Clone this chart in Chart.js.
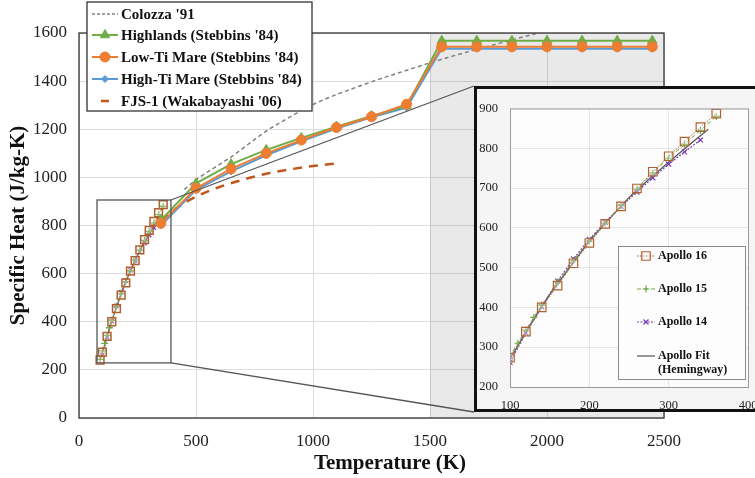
<!DOCTYPE html>
<html><head><meta charset="utf-8">
<script src="https://cdn.jsdelivr.net/npm/chart.js@4/dist/chart.umd.min.js"></script>
<style>
html,body{margin:0;padding:0;background:#fff;overflow:hidden;width:755px;height:478px;}
#main{position:absolute;left:0;top:0;}
#insetFrame{position:absolute;left:474px;top:86px;width:300px;height:320px;border:3px solid #111;background:#f5f5f5;}
#inset{position:absolute;left:0;top:0;}
</style></head>
<body>
<canvas id="main" width="755" height="478"></canvas>
<div id="insetFrame"><canvas id="inset" width="300" height="320"></canvas></div>
<script>
// ---------- data ----------
const stebT      = [350,500,650,800,950,1100,1250,1400,1550,1700,1850,2000,2150,2300,2450];
const highlandsCp= [822,975,1055,1114,1164,1211,1255,1297,1568,1568,1568,1568,1568,1568,1568];
const lowTiCp    = [809,955,1035,1100,1155,1207,1252,1304,1543,1543,1543,1543,1543,1543,1543];
const highTiCp   = [800,948,1025,1092,1150,1203,1250,1290,1535,1535,1535,1535,1535,1535,1535];
const colozzaT   = [450,500,650,800,900,1000,1200,1400,1600,1800,2000];
const colozzaCp  = [950,990,1085,1192,1250,1303,1380,1445,1505,1558,1610];
const fjsT       = [350,400,450,500,600,700,800,900,1000,1100];
const fjsCp      = [820,860,893,920,960,990,1015,1033,1047,1058];
const a16T  = [90,100,120,140,160,180,200,220,240,260,280,300,320,340,360];
const a16Cp = [241,274,339,400,455,511,562,610,654,699,741,780,817,853,887];
const a15T  = [90,100,110,120,130,140,160,180,200,220,240,260,280,300,320,340,360];
const a15Cp = [244,279,310,343,375,406,464,518,567,612,656,698,738,775,810,845,880];
const a14T  = [100,120,140,160,180,200,220,240,260,280,300,320,340];
const a14Cp = [262,336,402,466,522,571,614,654,690,726,760,791,821];
const fitT  = [90,100,125,150,175,200,225,250,275,300,325,350];
const fitCp = [240,270,355,432,500,567,622,676,722,765,807,848];
const mainLabels  = ["Colozza '91","Highlands (Stebbins '84)","Low-Ti Mare (Stebbins '84)","High-Ti Mare (Stebbins '84)","FJS-1 (Wakabayashi '06)"];
const insetLabels = [["Apollo 16"],["Apollo 15"],["Apollo 14"],["Apollo Fit","(Hemingway)"]];
const xTitle = "Temperature (K)";
const yTitle = "Specific Heat (J/kg-K)";
const zoomBox = {x0:77, x1:393, y0:229, y1:906};
const shade = {from:1500, to:2500};

const SERIF = "'Liberation Serif','Times New Roman',serif";
const pts = (xs, ys) => xs.map((v,i)=>({x:v,y:ys[i]}));
const plain = v => String(v);

const C = {green:'#70ad47', orange:'#ed7d31', blue:'#5b9bd5', gray:'#808080', fjs:'#c0561c',
           a16:'#b0602e', a15:'#6aab45', a14:'#7a3cb8', fit:'#555555'};

function drawMarker(ctx, style, r, x, y, stroke, fill, bw){
  ctx.save();
  ctx.strokeStyle = stroke; ctx.fillStyle = fill; ctx.lineWidth = bw;
  Chart.helpers.drawPoint(ctx, {pointStyle:style, radius:r, rotation:0, borderWidth:bw}, x, y);
  ctx.restore();
}

// ---------- main chart ----------
const mainDatasets = [
  {label:mainLabels[0], data:pts(colozzaT,colozzaCp), borderColor:C.gray, borderWidth:1.5, borderDash:[4,3], pointRadius:0, cubicInterpolationMode:'monotone', order:6, lg:{dash:[3,2], w:1.5}},
  {label:mainLabels[1], data:pts(stebT,highlandsCp), borderColor:C.green, backgroundColor:C.green, borderWidth:2, pointStyle:'triangle', pointRadius:5.5, pointBorderWidth:1, order:2, lg:{marker:'triangle', r:5.5, w:2}},
  {label:mainLabels[2], data:pts(stebT,lowTiCp), borderColor:C.orange, backgroundColor:C.orange, borderWidth:2, pointStyle:'circle', pointRadius:5, pointBorderWidth:1, order:1, lg:{marker:'circle', r:5, w:2}},
  {label:mainLabels[3], data:pts(stebT,highTiCp), borderColor:C.blue, backgroundColor:C.blue, borderWidth:2, pointStyle:'rectRot', pointRadius:3.5, pointBorderWidth:1, order:3, lg:{marker:'rectRot', r:3.5, w:2}},
  {label:mainLabels[4], data:pts(fjsT,fjsCp), borderColor:C.fjs, borderWidth:2.5, borderDash:[9,7], pointRadius:0, cubicInterpolationMode:'monotone', order:5, lg:{short:true, w:2.5}},
  {label:'Apollo Fit', data:pts(fitT,fitCp), borderColor:C.fit, borderWidth:1.2, pointRadius:0, order:10},
  {label:'Apollo 14', data:pts(a14T,a14Cp), borderColor:C.a14, borderWidth:1, borderDash:[2,2], pointStyle:'crossRot', pointRadius:3, pointBorderColor:C.a14, pointBorderWidth:1.2, order:9},
  {label:'Apollo 15', data:pts(a15T,a15Cp), borderColor:C.a15, borderWidth:1, borderDash:[3,2], pointStyle:'cross', pointRadius:3.5, pointBorderColor:C.a15, pointBorderWidth:1.3, order:8},
  {label:'Apollo 16', data:pts(a16T,a16Cp), borderColor:C.a16, borderWidth:1, borderDash:[1,2], pointStyle:'rect', pointRadius:5.5, pointBorderColor:C.a16, pointBackgroundColor:'rgba(255,255,255,0.25)', pointBorderWidth:1.5, order:7}
];

const mainDecor = {
  id:'mainDecor',
  beforeDatasetsDraw(chart){
    const {ctx, chartArea:a, scales:{x}} = chart;
    const x0 = x.getPixelForValue(shade.from), x1 = x.getPixelForValue(shade.to);
    ctx.save(); ctx.fillStyle = 'rgba(0,0,0,0.085)';
    ctx.fillRect(x0, a.top, x1-x0, a.bottom-a.top); ctx.restore();
  },
  afterDatasetsDraw(chart){
    const {ctx, chartArea:a, scales:{x,y}} = chart;
    ctx.save();
    const rx0=x.getPixelForValue(zoomBox.x0), rx1=x.getPixelForValue(zoomBox.x1);
    const ry0=y.getPixelForValue(zoomBox.y0), ry1=y.getPixelForValue(zoomBox.y1);
    ctx.strokeStyle='#555'; ctx.lineWidth=1.3;
    ctx.strokeRect(rx0, ry1, rx1-rx0, ry0-ry1);
    const f = document.getElementById('insetFrame');
    const fx = f.offsetLeft, fyTop = f.offsetTop, fyBot = f.offsetTop + f.offsetHeight;
    ctx.beginPath(); ctx.moveTo(rx1, ry1); ctx.lineTo(fx, fyTop);
    ctx.moveTo(rx1, ry0); ctx.lineTo(fx, fyBot); ctx.stroke();
    ctx.strokeStyle='#333'; ctx.lineWidth=1.3;
    ctx.strokeRect(a.left, a.top, a.right-a.left, a.bottom-a.top);
    ctx.restore();
  },
  afterDraw(chart){
    const ctx = chart.ctx;
    ctx.save();
    ctx.fillStyle='#111'; ctx.font = "bold 21px " + SERIF;
    ctx.textAlign='center'; ctx.textBaseline='middle';
    ctx.fillText(xTitle, 390, 464);
    ctx.fillStyle='#fff'; ctx.strokeStyle='#333'; ctx.lineWidth=1.3;
    ctx.fillRect(87,2,225,109); ctx.strokeRect(87,2,225,109);
    const ys = [14,35,57,79,101];
    const ds = chart.data.datasets.filter(d=>d.lg);
    ds.forEach((d,i)=>{
      const yy = ys[i];
      ctx.save();
      ctx.strokeStyle = d.borderColor; ctx.lineWidth = d.lg.w;
      ctx.setLineDash(d.lg.dash || []);
      ctx.beginPath();
      if (d.lg.short){ ctx.moveTo(101,yy); ctx.lineTo(109,yy); }
      else { ctx.moveTo(92,yy); ctx.lineTo(118,yy); }
      ctx.stroke(); ctx.restore();
      if (d.lg.marker) drawMarker(ctx, d.lg.marker, d.lg.r, 105, yy, d.borderColor, d.borderColor, 1);
      ctx.fillStyle='#111'; ctx.font = "bold 15px " + SERIF;
      ctx.textAlign='left'; ctx.textBaseline='middle';
      ctx.fillText(d.label, 121, yy+1);
    });
    ctx.restore();
  }
};

new Chart(document.getElementById('main'), {
  type:'line',
  data:{datasets:mainDatasets},
  options:{
    responsive:false, animation:false, devicePixelRatio:1,
    layout:{padding:{left:0, top:33, right:91, bottom:0}},
    plugins:{legend:{display:false}, tooltip:{enabled:false}},
    scales:{
      x:{type:'linear', min:0, max:2500,
         ticks:{stepSize:500, padding:13, color:'#222', font:{family:SERIF, size:17}, callback:plain},
         grid:{color:'#dcdcdc', drawTicks:false}, border:{display:false},
         afterFit(s){ s.height = 60; }},
      y:{type:'linear', min:0, max:1600,
         ticks:{stepSize:200, padding:12, color:'#222', font:{family:SERIF, size:17}, callback:plain},
         grid:{color:'#dcdcdc', drawTicks:false}, border:{display:false},
         title:{display:true, text:yTitle, color:'#111', font:{family:SERIF, size:21, weight:'bold'}, padding:{top:6, bottom:0}},
         afterFit(s){ s.width = 79; }}
    }
  },
  plugins:[mainDecor]
});

// ---------- inset chart ----------
const insetDatasets = [
  {label:'Apollo 16', data:pts(a16T,a16Cp), borderColor:C.a16, borderWidth:1, borderDash:[1.5,1.5], pointStyle:'rect', pointRadius:6, pointBorderColor:C.a16, pointBackgroundColor:'rgba(255,255,255,0.3)', pointBorderWidth:1.2, order:1, lg:{marker:'rect', r:6, dash:[1.5,1.5]}},
  {label:'Apollo 15', data:pts(a15T,a15Cp), borderColor:C.a15, borderWidth:1, borderDash:[4,3], pointStyle:'cross', pointRadius:3.5, pointBorderColor:C.a15, pointBorderWidth:1.2, order:2, lg:{marker:'cross', r:3.5, dash:[4,3]}},
  {label:'Apollo 14', data:pts(a14T,a14Cp), borderColor:C.a14, borderWidth:1.2, borderDash:[2,1.5], pointStyle:'crossRot', pointRadius:3.5, pointBorderColor:C.a14, pointBorderWidth:1.2, order:3, lg:{marker:'crossRot', r:3.5, dash:[2,1.5]}},
  {label:'Apollo Fit (Hemingway)', data:pts(fitT,fitCp), borderColor:C.fit, borderWidth:1.2, pointRadius:0, order:4, lg:{dash:[]}}
];

const insetDecor = {
  id:'insetDecor',
  beforeDraw(chart){
    const {ctx, chartArea:a} = chart;
    ctx.save(); ctx.fillStyle='#fcfcfc';
    ctx.fillRect(a.left, a.top, a.right-a.left, a.bottom-a.top); ctx.restore();
  },
  afterDatasetsDraw(chart){
    const {ctx, chartArea:a} = chart;
    ctx.save(); ctx.strokeStyle='#9a9a9a'; ctx.lineWidth=1;
    ctx.strokeRect(a.left+0.5, a.top+0.5, a.right-a.left, a.bottom-a.top);
    ctx.fillStyle='#fdfdfd'; ctx.strokeStyle='#8a8a8a';
    ctx.fillRect(141,157,127,133); ctx.strokeRect(141.5,157.5,127,133);
    const ys = [167,200,233,267];
    chart.data.datasets.forEach((d,i)=>{
      const yy = ys[i];
      ctx.save(); ctx.strokeStyle=d.borderColor; ctx.lineWidth=1.2; ctx.setLineDash(d.lg.dash);
      ctx.beginPath(); ctx.moveTo(160,yy); ctx.lineTo(178,yy); ctx.stroke(); ctx.restore();
      if (d.lg.marker) drawMarker(ctx, d.lg.marker, d.lg.r, 169, yy, d.borderColor, 'rgba(255,255,255,0.3)', 1.2);
      ctx.fillStyle='#111'; ctx.font="bold 12px " + SERIF; ctx.textAlign='left'; ctx.textBaseline='middle';
      insetLabels[i].forEach((t,k)=> ctx.fillText(t, 181, yy + k*14));
    });
    ctx.restore();
  }
};

new Chart(document.getElementById('inset'), {
  type:'line',
  data:{datasets:insetDatasets},
  options:{
    responsive:false, animation:false, devicePixelRatio:1,
    layout:{padding:{left:0, top:7, right:29, bottom:0}},
    plugins:{legend:{display:false}, tooltip:{enabled:false}},
    scales:{
      x:{type:'linear', min:100, max:400,
         ticks:{stepSize:100, padding:11, color:'#222', font:{family:SERIF, size:12.5}, callback:plain},
         grid:{color:'#e6e6e6', drawTicks:false}, border:{display:false},
         afterFit(s){ s.height = 22; }},
      y:{type:'linear', min:200, max:900,
         ticks:{stepSize:100, padding:12, color:'#222', font:{family:SERIF, size:12.5}, callback:plain},
         grid:{color:'#e6e6e6', drawTicks:false}, border:{display:false},
         afterFit(s){ s.width = 33; }}
    }
  },
  plugins:[insetDecor]
});
</script>
</body></html>
